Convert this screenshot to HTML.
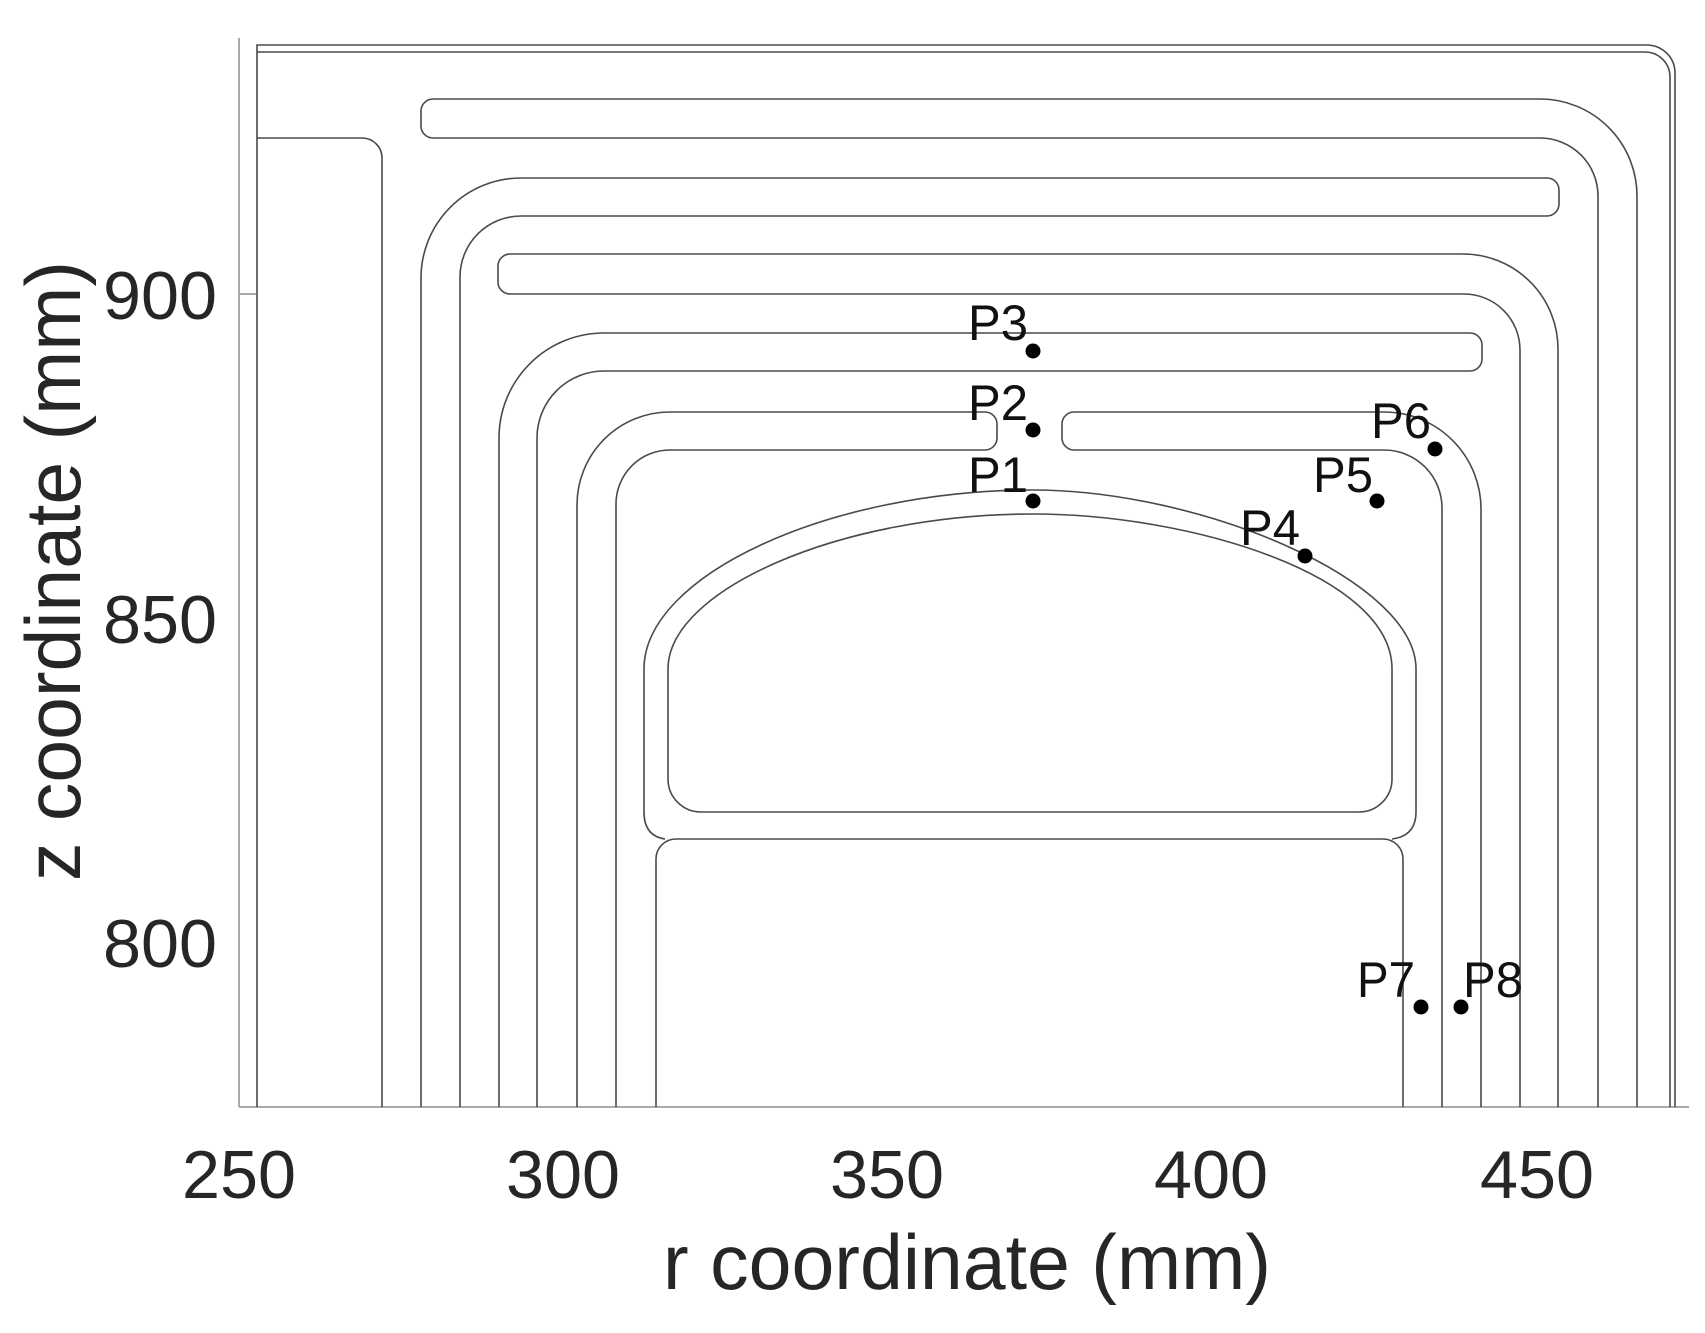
<!DOCTYPE html>
<html><head><meta charset="utf-8"><style>
html,body{margin:0;padding:0;background:#fff;}
svg{display:block;}
</style></head><body>
<svg width="1705" height="1333" viewBox="0 0 1705 1333" xmlns="http://www.w3.org/2000/svg">
<rect width="1705" height="1333" fill="#fff"/>
<!-- axes -->
<g stroke="#a8a8a8" stroke-width="2" fill="none">
<line x1="239" y1="38" x2="239" y2="1107"/>
<line x1="239" y1="1107" x2="1689" y2="1107"/>
<line x1="239" y1="294" x2="256" y2="294"/>
</g>
<g stroke="#4a4a4a" stroke-width="1.6" fill="none">
<path d="M257,1107 L257,45 L1647,45 A28,28 0 0 1 1675,73 L1675,1107"/>
<path d="M257,52 L1645,52 A25,25 0 0 1 1670,77 L1670,1107"/>
<path d="M257,138 L362,138 A20,20 0 0 1 382,158 L382,1107"/>
<path d="M1598,1107 L1598,196 A58,58 0 0 0 1540,138 L433,138 A12,12 0 0 1 421,126 L421,111 A12,12 0 0 1 433,99 L1540,99 A97,97 0 0 1 1637,196 L1637,1107"/>
<path d="M421,1107 L421,278 A100,100 0 0 1 521,178 L1547,178 A12,12 0 0 1 1559,190 L1559,204 A12,12 0 0 1 1547,216 L521,216 A61,61 0 0 0 460,277 L460,1107"/>
<path d="M1520,1107 L1520,350 A56,56 0 0 0 1464,294 L510,294 A12,12 0 0 1 498,282 L498,266 A12,12 0 0 1 510,254 L1463,254 A95,95 0 0 1 1558,349 L1558,1107"/>
<path d="M499,1107 L499,438 A105,105 0 0 1 604,333 L1470,333 A12,12 0 0 1 1482,345 L1482,359 A12,12 0 0 1 1470,371 L604,371 A67,67 0 0 0 537,438 L537,1107"/>
<path d="M577,1107 L577,505 A93,93 0 0 1 670,412 L985,412 A12,12 0 0 1 997,424 L997,438 A12,12 0 0 1 985,450 L670,450 A54,54 0 0 0 616,504 L616,1107"/>
<path d="M1481,1107 L1481,509 A97,97 0 0 0 1384,412 L1074,412 A12,12 0 0 0 1062,424 L1062,438 A12,12 0 0 0 1074,450 L1384,450 A58,58 0 0 1 1442,508 L1442,1107"/>
<path d="M665,839 Q644,836 644,812 L644,669 C644,575 830,490 1033,490 C1200,490 1416,580 1416,669 L1416,812 Q1416,836 1392,839"/>
<path d="M668,669 C668,590 840,514 1033,514 C1190,514 1392,575 1392,669 L1392,779 A33,33 0 0 1 1359,812 L701,812 A33,33 0 0 1 668,779 Z"/>
<path d="M656,1107 L656,859 A20,20 0 0 1 676,839 L1383,839 A20,20 0 0 1 1403,859 L1403,1107"/>
</g>
<g fill="#000">
<circle cx="1033" cy="351" r="7.5"/>
<circle cx="1033" cy="430" r="7.5"/>
<circle cx="1033" cy="501" r="7.5"/>
<circle cx="1305" cy="556" r="7.5"/>
<circle cx="1377" cy="501" r="7.5"/>
<circle cx="1435" cy="449" r="7.5"/>
<circle cx="1421" cy="1007" r="7.5"/>
<circle cx="1461" cy="1007" r="7.5"/>
</g>
<g font-family="Liberation Sans, Arial, sans-serif" font-size="50" fill="#111">
<text x="968" y="340" textLength="60" lengthAdjust="spacingAndGlyphs">P3</text>
<text x="968" y="420" textLength="60" lengthAdjust="spacingAndGlyphs">P2</text>
<text x="968" y="492" textLength="60" lengthAdjust="spacingAndGlyphs">P1</text>
<text x="1240" y="545" textLength="60" lengthAdjust="spacingAndGlyphs">P4</text>
<text x="1313" y="492" textLength="60" lengthAdjust="spacingAndGlyphs">P5</text>
<text x="1371" y="438" textLength="60" lengthAdjust="spacingAndGlyphs">P6</text>
<text x="1357" y="997" textLength="58" lengthAdjust="spacingAndGlyphs">P7</text>
<text x="1463" y="997" textLength="60" lengthAdjust="spacingAndGlyphs">P8</text>
</g>
<g font-family="Liberation Sans, Arial, sans-serif" font-size="68" fill="#262626">
<text x="217" y="319" text-anchor="end" textLength="114" lengthAdjust="spacingAndGlyphs">900</text>
<text x="217" y="643" text-anchor="end" textLength="114" lengthAdjust="spacingAndGlyphs">850</text>
<text x="217" y="967" text-anchor="end" textLength="114" lengthAdjust="spacingAndGlyphs">800</text>
<text x="239" y="1198" text-anchor="middle" textLength="114" lengthAdjust="spacingAndGlyphs">250</text>
<text x="563" y="1198" text-anchor="middle" textLength="114" lengthAdjust="spacingAndGlyphs">300</text>
<text x="887" y="1198" text-anchor="middle" textLength="114" lengthAdjust="spacingAndGlyphs">350</text>
<text x="1211" y="1198" text-anchor="middle" textLength="114" lengthAdjust="spacingAndGlyphs">400</text>
<text x="1537" y="1198" text-anchor="middle" textLength="114" lengthAdjust="spacingAndGlyphs">450</text>
</g>
<g font-family="Liberation Sans, Arial, sans-serif" font-size="78" fill="#262626">
<text x="663" y="1289" textLength="608" lengthAdjust="spacingAndGlyphs">r coordinate (mm)</text>
<text transform="translate(80,881) rotate(-90)" textLength="620" lengthAdjust="spacingAndGlyphs">z coordinate (mm)</text>
</g>
</svg>
</body></html>
